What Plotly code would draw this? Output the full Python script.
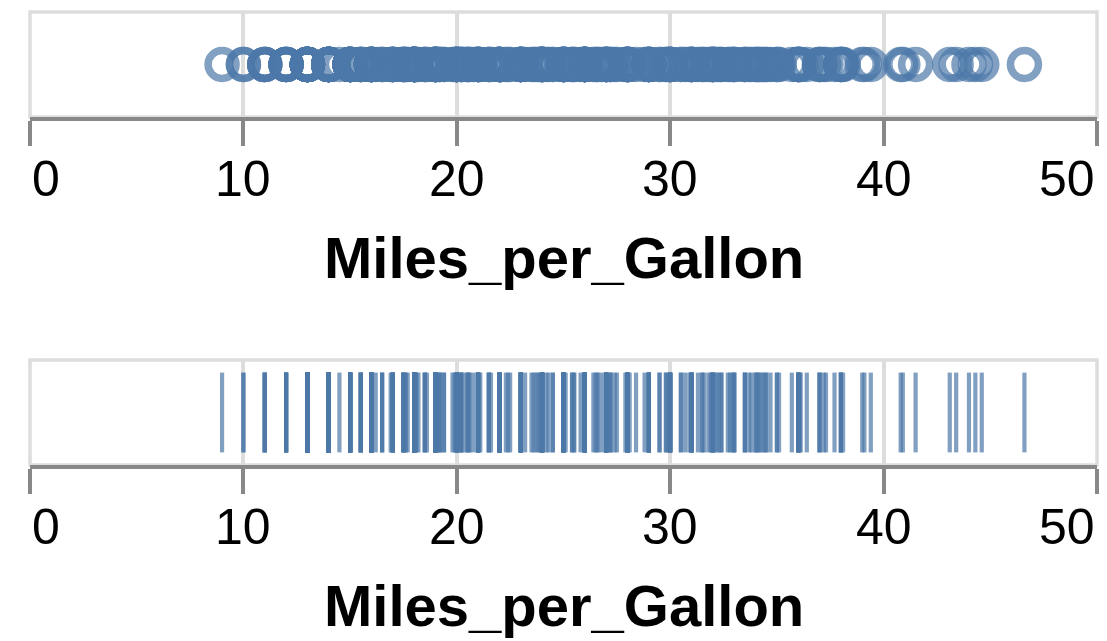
import plotly.graph_objects as go

# Miles_per_Gallon values (cars dataset)
mpg = [18,15,18,16,17,15,14,14,14,15,15,14,15,14,24,22,18,21,27,26,25,24,25,26,21,10,10,11,9,27,28,25,25,19,16,17,19,18,14,14,14,14,12,13,13,18,22,19,18,23,28,30,30,31,35,27,26,24,25,23,20,21,13,14,15,14,17,11,13,12,13,19,15,13,13,14,18,22,21,26,22,28,23,28,27,13,14,13,14,15,12,13,13,14,13,12,13,18,16,18,18,23,26,11,12,13,12,18,20,21,22,18,19,21,26,15,16,29,24,20,19,15,24,20,11,20,21,19,15,31,26,32,25,16,16,18,16,13,14,14,14,29,26,26,31,32,28,24,26,24,26,31,19,18,15,15,16,15,16,14,17,16,15,18,21,20,13,29,23,20,23,24,25,24,18,29,19,23,23,22,25,33,28,25,25,26,27,17.5,16,15.5,14.5,22,22,24,22.5,29,24.5,29,33,20,18,18.5,17.5,29.5,32,28,26.5,20,13,19,19,16.5,16.5,13,13,13,31.5,30,36,25.5,33.5,17.5,17,15.5,15,17.5,20.5,19,18.5,16,15.5,15.5,16,29,24.5,26,25.5,30.5,33.5,30,30.5,22,21.5,21.5,43.1,36.1,32.8,39.4,36.1,19.9,19.4,20.2,19.2,20.5,20.2,25.1,20.5,19.4,20.6,20.8,18.6,18.1,19.2,17.7,18.1,17.5,30,27.5,27.2,30.9,21.1,23.2,23.8,23.9,20.3,17,21.6,16.2,31.5,29.5,21.5,19.8,22.3,20.2,20.6,17,17.6,16.5,18.2,16.9,15.5,19.2,18.5,31.9,34.1,35.7,27.4,25.4,23,27.2,23.9,34.2,34.5,31.8,37.3,28.4,28.8,26.8,33.5,41.5,38.1,32.1,37.2,28,26.4,24.3,19.1,34.3,29.8,31.3,37,32.2,46.6,27.9,40.8,44.3,43.4,36.4,30,44.6,40.9,33.8,29.8,32.7,23.7,35,23.6,32.4,27.2,26.6,25.8,23.5,30,39.1,39,35.1,32.3,37,37.7,34.1,34.7,34.4,29.9,33,34.5,33.7,32.4,32.9,31.6,28.1,30.7,25.4,24.2,22.4,26.6,20.2,17.6,28,27,34,31,29,27,24,23,36,37,31,38,36,36,36,34,38,32,38,25,38,26,22,32,36,27,27,44,32,28,31]

tick_vals = [0, 10, 20, 30, 40, 50]
tick_text = ["0", "10", "20", "30", "40", "50"]
axis_title = "Miles_per_Gallon"

BLUE = "#4c78a8"
GRID = "#dddddd"
AXIS = "#888888"
FONT = "Liberation Sans, Arial, Helvetica, sans-serif"

W, H = 1107, 641
ML, MR, MT, MB = 30, 10, 12, 176
PH = H - MT - MB  # plot height in px

def py(ypix):
    return (H - MB - ypix) / PH

fig = go.Figure()
fig.add_trace(go.Scatter(
    x=mpg, y=[0] * len(mpg), mode="markers", xaxis="x", yaxis="y",
    marker=dict(symbol="circle-open", size=28, opacity=0.7, color=BLUE,
                line=dict(width=7.5, color=BLUE)),
    hoverinfo="x", showlegend=False))
fig.add_trace(go.Scatter(
    x=mpg, y=[0] * len(mpg), mode="markers", xaxis="x2", yaxis="y2",
    marker=dict(symbol="line-ns", size=57, opacity=0.7, color=BLUE,
                line=dict(width=4.2, color=BLUE)),
    hoverinfo="x", showlegend=False))

top_dom = [py(117), 1.0]
bot_dom = [0.0, py(360)]

xcommon = dict(range=[0, 50], tickvals=tick_vals, showticklabels=False,
               showgrid=True, gridcolor=GRID, gridwidth=3.5, zeroline=False,
               showline=True, linecolor=AXIS, linewidth=3.5,
               ticks="outside", ticklen=25, tickwidth=3.5, tickcolor=AXIS,
               fixedrange=True)
ycommon = dict(range=[-1, 1], showticklabels=False, showgrid=False,
               zeroline=False, showline=False, ticks="", fixedrange=True)

fig.update_layout(
    width=W, height=H,
    margin=dict(l=ML, r=MR, t=MT, b=MB),
    paper_bgcolor="white", plot_bgcolor="white",
    font=dict(family=FONT, color="black"),
    xaxis=dict(anchor="y", **xcommon),
    yaxis=dict(domain=top_dom, anchor="x", **ycommon),
    xaxis2=dict(anchor="y2", **xcommon),
    yaxis2=dict(domain=bot_dom, anchor="x2", **ycommon),
)

shapes = []
for xr, yr in (("x domain", "y domain"), ("x2 domain", "y2 domain")):
    shapes.append(dict(type="rect", xref=xr, yref=yr, x0=0, x1=1, y0=0, y1=1,
                       line=dict(color=GRID, width=3.5), layer="below"))
fig.update_layout(shapes=shapes)

annotations = []
for xr, offset in (("x", 0), ("x2", 348)):
    for i, (v, t) in enumerate(zip(tick_vals, tick_text)):
        anchor = "left" if i == 0 else ("right" if i == len(tick_vals) - 1 else "center")
        annotations.append(dict(x=v, xref=xr, y=py(179 + offset), yref="paper",
                                text=t, showarrow=False, xanchor=anchor,
                                yanchor="middle", font=dict(size=50, family=FONT)))
    annotations.append(dict(x=25, xref=xr, y=py(257 + offset), yref="paper",
                            text="<b>" + axis_title + "</b>", showarrow=False,
                            xanchor="center", yanchor="middle",
                            font=dict(size=58, family=FONT)))
fig.update_layout(annotations=annotations)

fig.write_html("out.html", config={"displayModeBar": False},
               post_script="document.body.style.margin='0';document.body.style.overflow='hidden';")
